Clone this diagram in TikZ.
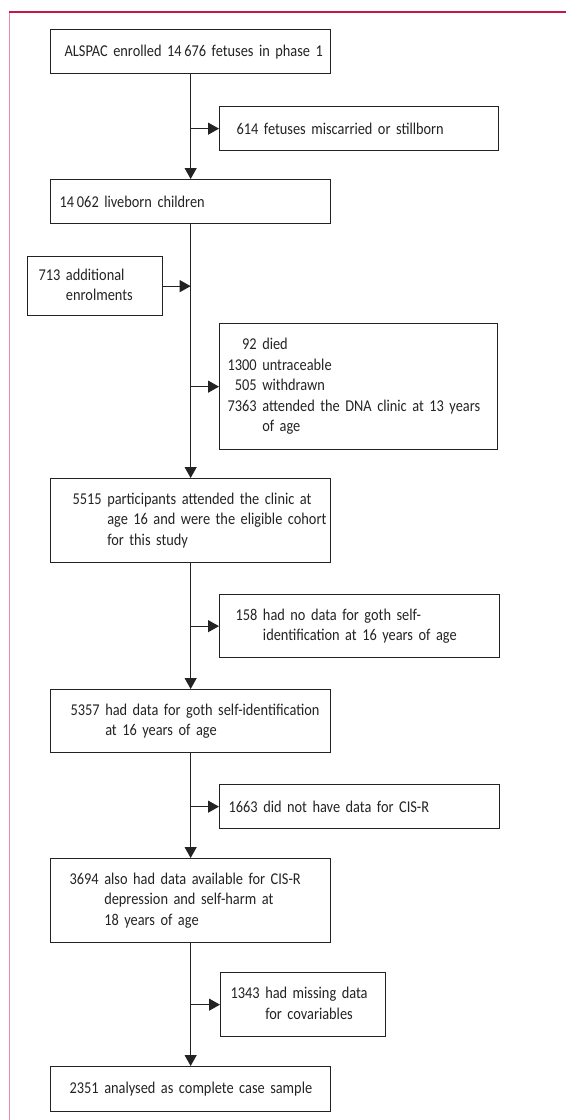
\documentclass[tikz,border=0pt]{standalone}
\usepackage{fontspec}
\setmainfont[FakeStretch=0.87, WordSpace=0.75]{Carlito}
\usetikzlibrary{arrows.meta}
\setlength{\parindent}{0pt}
\definecolor{framered}{RGB}{200,20,70}
\definecolor{framepink}{RGB}{232,140,165}
\definecolor{ink}{RGB}{35,35,35}

\begin{document}
\begin{tikzpicture}[x=1pt, y=-1pt,
		font=\fontsize{16.5}{20.5}\selectfont,
		box/.style={draw=ink, line width=1.3pt, anchor=north west, inner sep=0pt, align=left, text=ink},
		link/.style={draw=ink, line width=1.1pt, -{Triangle[length=11pt,width=12pt]}}]
	\useasboundingbox (0,0) rectangle (566,1120);
	\draw[framepink, line width=1pt] (9,12) -- (9,1120);
	\draw[framered, line width=1.2pt] (566,12) -- (8.5,12);
	%
	\node[box, text width=280pt, minimum height=44pt] (enrol) at (50,29)
		{\hspace*{14pt}ALSPAC enrolled 14\,676 fetuses in phase 1};
	\node[box, text width=279pt, minimum height=44pt] (miss) at (219,106)
		{\hspace*{17pt}614 fetuses miscarried or stillborn};
	\node[box, text width=280pt, minimum height=44pt] (live) at (50,179)
		{\hspace*{9pt}14\,062 liveborn children};
	\node[box, text width=135pt, minimum height=59pt] (add) at (27,256)
		{\hspace*{11pt}\begin{tabular}{@{}l@{ }l@{}}713 & additional\\ & enrolments\end{tabular}};
	\node[box, text width=278pt, minimum height=126pt] (lost) at (219,323)
		{\hspace*{8pt}\begin{tabular}{@{}r@{ }l@{}}92 & died\\ 1300 & untraceable\\ 505 & withdrawn\\
		7363 & attended the DNA clinic at 13 years\\ & of age\end{tabular}};
	\node[box, text width=280pt, minimum height=84pt] (cohort) at (50,478)
		{\hspace*{22pt}\begin{tabular}{@{}l@{ }l@{}}5515 & participants attended the clinic at\\
		& age 16 and were the eligible cohort\\ & for this study\end{tabular}};
	\node[box, text width=280pt, minimum height=63pt] (nogoth) at (219,594)
		{\hspace*{16pt}\begin{tabular}{@{}l@{ }l@{}}158 & had no data for goth self-\\
		& identification at 16 years of age\end{tabular}};
	\node[box, text width=280pt, minimum height=63pt] (goth) at (50,689)
		{\hspace*{20pt}\begin{tabular}{@{}l@{ }l@{}}5357 & had data for goth self-identification\\
		& at 16 years of age\end{tabular}};
	\node[box, text width=280pt, minimum height=44pt] (nocisr) at (219,784)
		{\hspace*{9pt}1663 did not have data for CIS-R};
	\node[box, text width=280pt, minimum height=84pt] (cisr) at (50,858)
		{\hspace*{19pt}\begin{tabular}{@{}l@{ }l@{}}3694 & also had data available for CIS-R\\
		& depression and self-harm at\\ & 18 years of age\end{tabular}};
	\node[box, text width=165pt, minimum height=64pt] (missing) at (220,972)
		{\hspace*{10pt}\begin{tabular}{@{}l@{ }l@{}}1343 & had missing data\\ & for covariables\end{tabular}};
	\node[box, text width=280pt, minimum height=45pt] (sample) at (50,1066)
		{\hspace*{19pt}2351 analysed as complete case sample};
	%
	\draw[link] (enrol) -- (live);
	\draw[link] (live) -- (cohort);
	\draw[link] (cohort) -- (goth);
	\draw[link] (goth) -- (cisr);
	\draw[link] (cisr) -- (sample);
	\draw[link] (enrol |- miss) -- (miss);
	\draw[link] (add) -- (add -| live);
	\draw[link] (live |- lost) -- (lost);
	\draw[link] (cohort |- nogoth) -- (nogoth);
	\draw[link] (goth |- nocisr) -- (nocisr);
	\draw[link] (cisr |- missing) -- (missing);
\end{tikzpicture}
\end{document}
